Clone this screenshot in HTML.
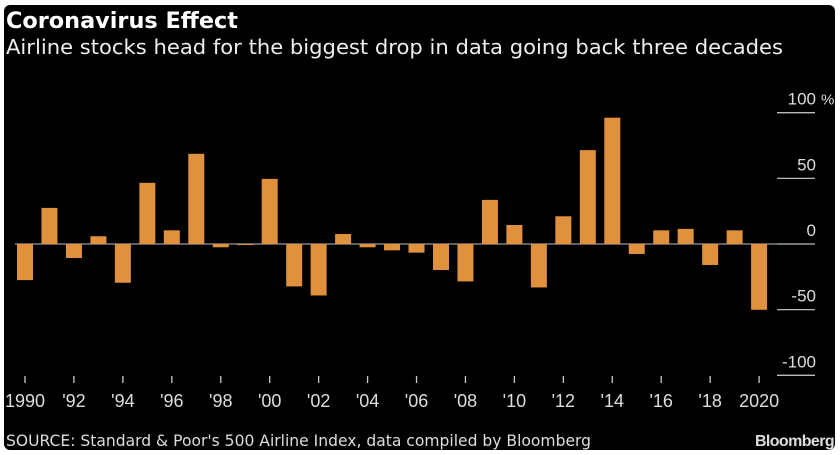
<!DOCTYPE html>
<html><head><meta charset="utf-8"><style>
html,body{margin:0;padding:0;background:#fff;}
body{width:840px;height:455px;overflow:hidden;position:relative;font-family:"Liberation Sans",sans-serif;}
#card{position:absolute;left:4px;top:5px;width:831px;height:445px;background:#000;border-radius:6px;}
</style></head><body>
<div id="card"></div>
<svg id="chart" width="840" height="455" style="position:absolute;left:0;top:0">
<text x="6" y="28" fill="#fff" font-size="22" font-weight="bold" font-family="DejaVu Sans, sans-serif" textLength="232" lengthAdjust="spacingAndGlyphs">Coronavirus Effect</text>
<text x="6" y="54" fill="#eee" font-size="20" font-family="DejaVu Sans, sans-serif" textLength="777" lengthAdjust="spacingAndGlyphs">Airline stocks head for the biggest drop in data going back three decades</text>
<text x="6" y="446" fill="#ddd" font-size="16" font-family="DejaVu Sans, sans-serif" textLength="585" lengthAdjust="spacingAndGlyphs">SOURCE: Standard &amp; Poor's 500 Airline Index, data compiled by Bloomberg</text>
<text x="834" y="446" fill="#ddd" font-size="16" font-weight="bold" text-anchor="end" letter-spacing="-0.6">Bloomberg</text>
<g id="grid"></g><g id="bars"></g><g id="xaxis"></g>
</svg>
<script>
const years=[1990,1991,1992,1993,1994,1995,1996,1997,1998,1999,2000,2001,2002,2003,2004,2005,2006,2007,2008,2009,2010,2011,2012,2013,2014,2015,2016,2017,2018,2019,2020];
const values=[-27.5,27.5,-10.7,5.9,-29.5,46.6,10.4,68.7,-2.5,-0.8,49.6,-32.3,-39.2,7.6,-2.5,-4.8,-6.6,-19.8,-28.5,33.6,14.5,-33.1,21.1,71.5,96.2,-7.6,10.4,11.5,-16,10.4,-50.1];
const yTicks=[100,50,0,-50,-100];
const yTickLabels=["100","50","0","-50","-100"];
const xTickYears=[1990,1992,1994,1996,1998,2000,2002,2004,2006,2008,2010,2012,2014,2016,2018,2020];
const xTickLabels=["1990","'92","'94","'96","'98","'00","'02","'04","'06","'08","'10","'12","'14","'16","'18","2020"];
const NS='http://www.w3.org/2000/svg';
function X(yr){return 25+(yr-1990)*24.47;}
function Y(v){return 244-v*1.313;}
function mk(tag,attrs,parent){const e=document.createElementNS(NS,tag);for(const k in attrs)e.setAttribute(k,attrs[k]);parent.appendChild(e);return e;}
const grid=document.getElementById('grid'),bars=document.getElementById('bars'),xa=document.getElementById('xaxis');
yTicks.forEach((t,i)=>{
 const l=mk('line',{x1:777,x2:815,y1:Y(t),y2:Y(t),stroke:'#bbb','stroke-width':1.3},grid);
 
 
 const tx=mk('text',{x:816,y:Y(t)-8,fill:'#ddd','font-size':17,'text-anchor':'end'},grid);
 tx.textContent=yTickLabels[i];
 
 
});
const pct=mk('text',{x:821,y:Y(100)-8,fill:'#ddd','font-size':15},grid);pct.textContent='%';


const zl=mk('line',{x1:15,x2:777,y1:Y(0),y2:Y(0),stroke:'#999','stroke-width':1.2},grid);


years.forEach((yr,i)=>{
 const v=values[i];const y0=Y(0),y1=Y(v);
 const r=mk('rect',{x:X(yr)-8,y:Math.min(y0,y1),width:16,height:Math.max(Math.abs(y1-y0),0.8),fill:'#e0913e'},bars);
 
 
});
xTickYears.forEach((yr,i)=>{
 const t=mk('line',{x1:X(yr),x2:X(yr),y1:376,y2:383,stroke:'#ccc','stroke-width':1.3},xa);
 
 
 const tx=mk('text',{x:X(yr),y:407,fill:'#ddd','font-size':18,'text-anchor':'middle'},xa);
 tx.textContent=xTickLabels[i];
 
 
});
</script>
</body></html>
